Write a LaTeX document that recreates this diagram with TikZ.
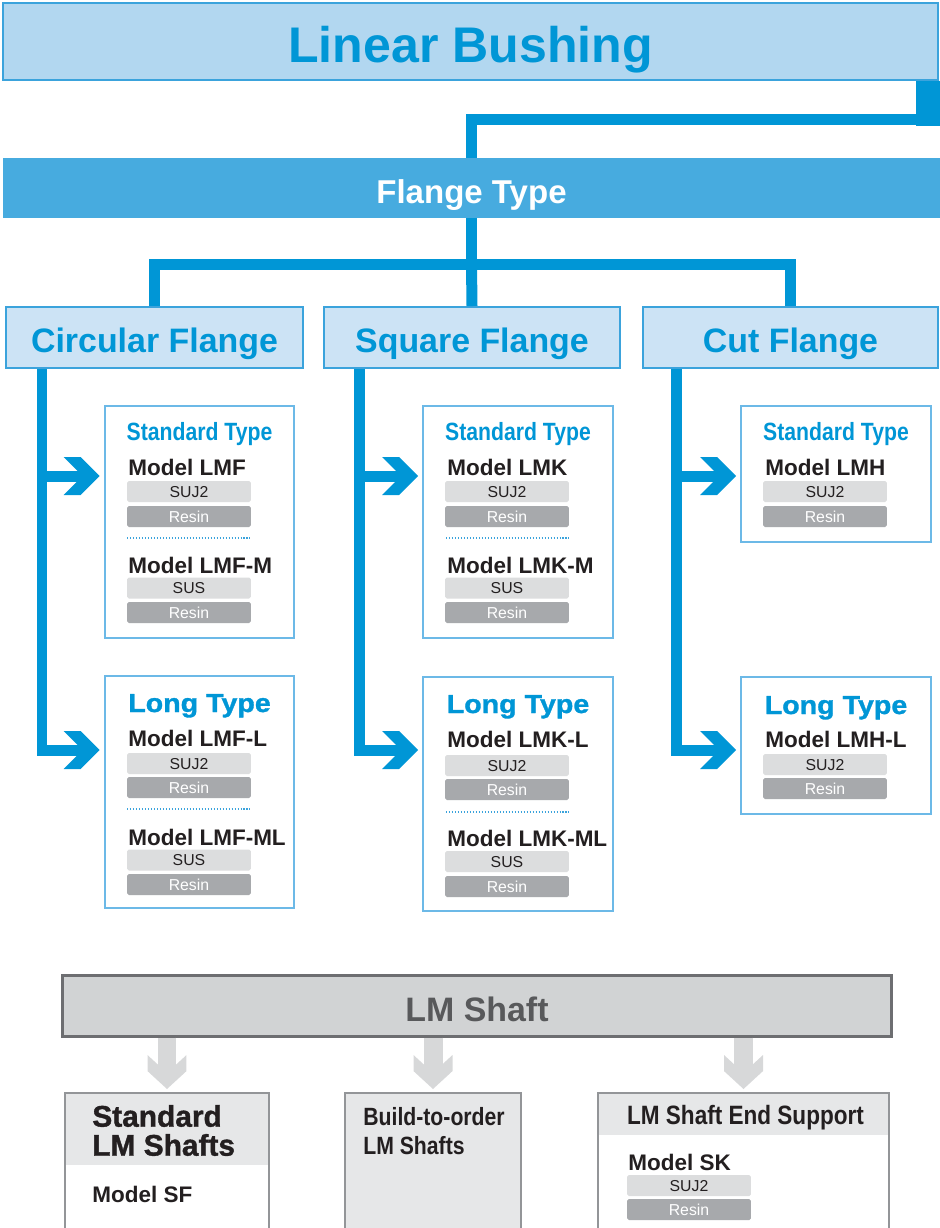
\documentclass[tikz,border=0pt]{standalone}
\usepackage{fontspec}
\setmainfont{Liberation Sans}
\newfontfamily\narrowsf[FakeStretch=0.85]{Liberation Sans}
\newfontfamily\widesf[FakeStretch=1.1,FakeBold=1.2]{Liberation Sans}
\newfontfamily\heavysf[FakeBold=1.2]{Liberation Sans}
\usetikzlibrary{arrows.meta,positioning,calc}

\definecolor{lbfill}{HTML}{B2D7F0}
\definecolor{thkblue}{HTML}{0096D6}
\definecolor{ftfill}{HTML}{47ABDF}
\definecolor{catfill}{HTML}{CCE3F5}
\definecolor{catline}{HTML}{3BA3DC}
\definecolor{subline}{HTML}{6CB9E7}
\definecolor{ink}{HTML}{231F20}
\definecolor{barlight}{HTML}{DCDDDE}
\definecolor{bardark}{HTML}{A7A9AC}
\definecolor{shaftfill}{HTML}{D1D3D4}
\definecolor{shaftline}{HTML}{6D6E71}
\definecolor{shafttext}{HTML}{58595B}
\definecolor{shaftarrow}{HTML}{D7D8D9}
\definecolor{boxline}{HTML}{939598}
\definecolor{hdrfill}{HTML}{E6E7E8}

% notched chevron head
\pgfdeclarearrow{
  name = Chevron,
  parameters = {\the\pgfarrowlength,\the\pgfarrowwidth},
  setup code = {
    \pgfarrowssettipend{0pt}
    \pgfarrowssetlineend{-.3\pgfarrowlength}
    \pgfarrowssetbackend{-\pgfarrowlength}
    \pgfarrowshullpoint{0pt}{0pt}
    \pgfarrowshullpoint{-\pgfarrowlength}{.5\pgfarrowwidth}
    \pgfarrowshullpoint{-\pgfarrowlength}{-.5\pgfarrowwidth}
    \pgfarrowssavethe\pgfarrowlength
    \pgfarrowssavethe\pgfarrowwidth
  },
  drawing code = {
    \pgfpathmoveto{\pgfqpoint{0pt}{0pt}}
    \pgfpathlineto{\pgfqpoint{-.5278\pgfarrowlength}{.5\pgfarrowwidth}}
    \pgfpathlineto{\pgfqpoint{-\pgfarrowlength}{.5\pgfarrowwidth}}
    \pgfpathlineto{\pgfqpoint{-.4722\pgfarrowlength}{0pt}}
    \pgfpathlineto{\pgfqpoint{-\pgfarrowlength}{-.5\pgfarrowwidth}}
    \pgfpathlineto{\pgfqpoint{-.5278\pgfarrowlength}{-.5\pgfarrowwidth}}
    \pgfpathclose
    \pgfusepathqfill
  },
  defaults = {length=0.72cm,width=0.76cm}
}

\begin{document}
\begin{tikzpicture}[x=0.02cm, y=-0.02cm,
      trunk/.style={draw=thkblue,line width=0.22cm},
      branch/.style={-{Chevron[length=0.72cm,width=0.76cm]},shorten >=0.08cm},
      headbox/.style={draw=catline,line width=0.04cm,fill=lbfill,text=thkblue,inner sep=0pt,
        font=\bfseries\fontsize{28.5}{30}\selectfont,text height=0.82cm,text depth=0pt,
        minimum width=18.7cm,minimum height=1.54cm},
      typebar/.style={fill=ftfill,text=white,inner sep=0pt,
        font=\bfseries\fontsize{18.8}{20}\selectfont,text height=0.6cm,text depth=0pt,
        minimum width=18.74cm,minimum height=1.2cm},
      flange/.style={draw=catline,line width=0.04cm,fill=catfill,text=thkblue,inner sep=0pt,
        font=\bfseries\fontsize{19.3}{20}\selectfont,text height=0.58cm,text depth=0pt,
        minimum height=1.22cm},
      subbox/.style={draw=subline,line width=0.04cm,fill=white,minimum width=3.8cm},
      stdtitle/.style={anchor=base,text=thkblue,inner sep=0pt,font=\narrowsf\bfseries\fontsize{14.2}{15}\selectfont},
      longtitle/.style={anchor=base,text=thkblue,inner sep=0pt,font=\widesf\bfseries\fontsize{14.8}{15}\selectfont},
      model/.style={anchor=base west,text=ink,inner sep=0pt,font=\bfseries\fontsize{12.8}{14}\selectfont},
      mat/.style={rounded corners=1pt,minimum width=2.48cm,minimum height=0.42cm,inner sep=0pt,
        text height=6.45pt,text depth=0pt,font=\fontsize{9}{10}\selectfont},
      steel/.style={mat,fill=barlight,text=ink},
      resin/.style={mat,fill=bardark,text=white},
      dotrule/.style={draw=catline,line width=0.8pt,dash pattern=on 0.6pt off 1.1pt},
      shaft/.style={draw=shaftline,line width=0.06cm,fill=shaftfill,text=shafttext,inner sep=0pt,
        font=\bfseries\fontsize{19.3}{20}\selectfont,text height=0.62cm,text depth=0pt,
        minimum width=16.6cm,minimum height=1.22cm},
      down/.style={draw=shaftarrow,line width=0.38cm,
        -{Chevron[length=0.68cm,width=0.78cm]},shorten >=0.06cm},
      part/.style={draw=boxline,line width=0.04cm,anchor=north,minimum height=2.96cm},
      hdr/.style={fill=hdrfill,anchor=north,inner sep=0pt}]
  \useasboundingbox (0,0) rectangle (940,1228);

  % top of the tree
  \node[headbox] (lb) at (470.5,41.5) {Linear Bushing};
  \node[typebar] (ft) at (471.5,188) {Flange Type};
  \node[flange,minimum width=5.94cm] (circ) at (154.5,337.5) {Circular Flange};
  \node[flange,minimum width=5.92cm] (sq) at (472,337.5) {Square Flange};
  \node[flange,minimum width=5.9cm] (cut) at (790.5,337.5) {Cut Flange};

  \coordinate (bend) at (928,119.5);
  \coordinate (hub) at (471.5,264.5);
  \draw[trunk,line width=0.48cm] (lb.south -| bend) -- ++(0,45);
  \draw[trunk] (bend) -| (ft.north);
  \draw[trunk] (ft.south) -- (hub);
  \draw[trunk] (circ.north) |- (hub) -| (cut.north);
  \draw[trunk] (hub) -- (sq.north);

  % model boxes
  \node[subbox,minimum height=4.64cm] (circStd) at (199.5,522) {};
  \node[subbox,minimum height=4.64cm] (circLong) at (199.5,792) {};
  \node[subbox,minimum height=4.64cm] (sqStd) at (518,522) {};
  \node[subbox,minimum height=4.68cm] (sqLong) at (518,794) {};
  \node[subbox,minimum height=2.72cm] (cutStd) at (836,474) {};
  \node[subbox,minimum height=2.74cm] (cutLong) at (836,745.5) {};

  \coordinate (circJ) at (42,476);
  \coordinate (circK) at (42,750);
  \coordinate (sqJ) at (359.5,476);
  \coordinate (sqK) at (359.5,750);
  \coordinate (cutJ) at (676.5,476);
  \coordinate (cutK) at (676.5,750);
  \draw[trunk,branch] (circ.south -| circJ) |- (circLong.west |- circK);
  \draw[trunk,branch] (circJ) -- (circStd.west |- circJ);
  \draw[trunk,branch] (sq.south -| sqJ) |- (sqLong.west |- sqK);
  \draw[trunk,branch] (sqJ) -- (sqStd.west |- sqJ);
  \draw[trunk,branch] (cut.south -| cutJ) |- (cutLong.west |- cutK);
  \draw[trunk,branch] (cutJ) -- (cutStd.west |- cutJ);

  % circular flange
  \node[stdtitle] (circStdT) at (199.5,440) {Standard Type};
  \node[model] (lmf) at (128,475) {Model LMF};
  \node[steel] (lmfA) at (189,491.5) {SUJ2};
  \node[resin] (lmfB) at (189,516.5) {Resin};
  \draw[dotrule] (127,538) -- (250,538);
  \node[model] (lmfm) at (128,573) {Model LMF-M};
  \node[steel] (lmfmA) at (189,588) {SUS};
  \node[resin] (lmfmB) at (189,612.5) {Resin};

  \node[longtitle] (circLongT) at (199.5,712) {Long Type};
  \node[model] (lmfl) at (128,746) {Model LMF-L};
  \node[steel] (lmflA) at (189,763.5) {SUJ2};
  \node[resin] (lmflB) at (189,787.5) {Resin};
  \draw[dotrule] (127,809) -- (250,809);
  \node[model] (lmfml) at (128,845) {Model LMF-ML};
  \node[steel] (lmfmlA) at (189,860) {SUS};
  \node[resin] (lmfmlB) at (189,884.5) {Resin};

  % square flange
  \node[stdtitle] (sqStdT) at (518,440) {Standard Type};
  \node[model] (lmk) at (447,475) {Model LMK};
  \node[steel] (lmkA) at (507,491.5) {SUJ2};
  \node[resin] (lmkB) at (507,516.5) {Resin};
  \draw[dotrule] (446,538) -- (569,538);
  \node[model] (lmkm) at (447,573) {Model LMK-M};
  \node[steel] (lmkmA) at (507,588) {SUS};
  \node[resin] (lmkmB) at (507,612.5) {Resin};

  \node[longtitle] (sqLongT) at (518,713) {Long Type};
  \node[model] (lmkl) at (447,747) {Model LMK-L};
  \node[steel] (lmklA) at (507,765.5) {SUJ2};
  \node[resin] (lmklB) at (507,789.5) {Resin};
  \draw[dotrule] (446,812) -- (569,812);
  \node[model] (lmkml) at (447,846) {Model LMK-ML};
  \node[steel] (lmkmlA) at (507,861.5) {SUS};
  \node[resin] (lmkmlB) at (507,886.5) {Resin};

  % cut flange
  \node[stdtitle] (cutStdT) at (836,440) {Standard Type};
  \node[model] (lmh) at (765,475) {Model LMH};
  \node[steel] (lmhA) at (825,491.5) {SUJ2};
  \node[resin] (lmhB) at (825,516.5) {Resin};

  \node[longtitle] (cutLongT) at (836,714) {Long Type};
  \node[model] (lmhl) at (765,747) {Model LMH-L};
  \node[steel] (lmhlA) at (825,764.5) {SUJ2};
  \node[resin] (lmhlB) at (825,788.5) {Resin};

  % shafts
  \node[shaft] (lms) at (477,1005.5) {LM Shaft};
  \node[hdr,minimum width=4.08cm,minimum height=1.46cm] at (167,1092) {};
  \node[part,minimum width=4.08cm] (sfBox) at (167,1092) {};
  \node[part,fill=hdrfill,minimum width=3.52cm] (boBox) at (433,1092) {};
  \node[hdr,minimum width=5.82cm,minimum height=0.86cm] at (743.5,1092) {};
  \node[part,minimum width=5.82cm] (skBox) at (743.5,1092) {};

  \draw[down] (lms.south -| sfBox.north) -- (sfBox.north);
  \draw[down] (lms.south -| boBox.north) -- (boBox.north);
  \draw[down] (lms.south -| skBox.north) -- (skBox.north);

  \node[anchor=west,align=left,inner sep=0pt,text=ink,font=\heavysf\bfseries\fontsize{17}{16.5}\selectfont]
    (sfT) at (92,1130.5) {Standard\\LM Shafts};
  \node[model] (sf) at (92,1202) {Model SF};
  \node[anchor=west,align=left,inner sep=0pt,text=ink,font=\narrowsf\bfseries\fontsize{14.2}{16.5}\selectfont]
    (boT) at (363,1131) {Build-to-order\\LM Shafts};
  \node[anchor=base,inner sep=0pt,text=ink,font=\narrowsf\bfseries\fontsize{15.1}{16}\selectfont]
    (skT) at (745.5,1124) {LM Shaft End Support};
  \node[model] (sk) at (628,1170) {Model SK};
  \node[steel] (skA) at (689,1185.5) {SUJ2};
  \node[resin] (skB) at (689,1209.5) {Resin};
\end{tikzpicture}
\end{document}
